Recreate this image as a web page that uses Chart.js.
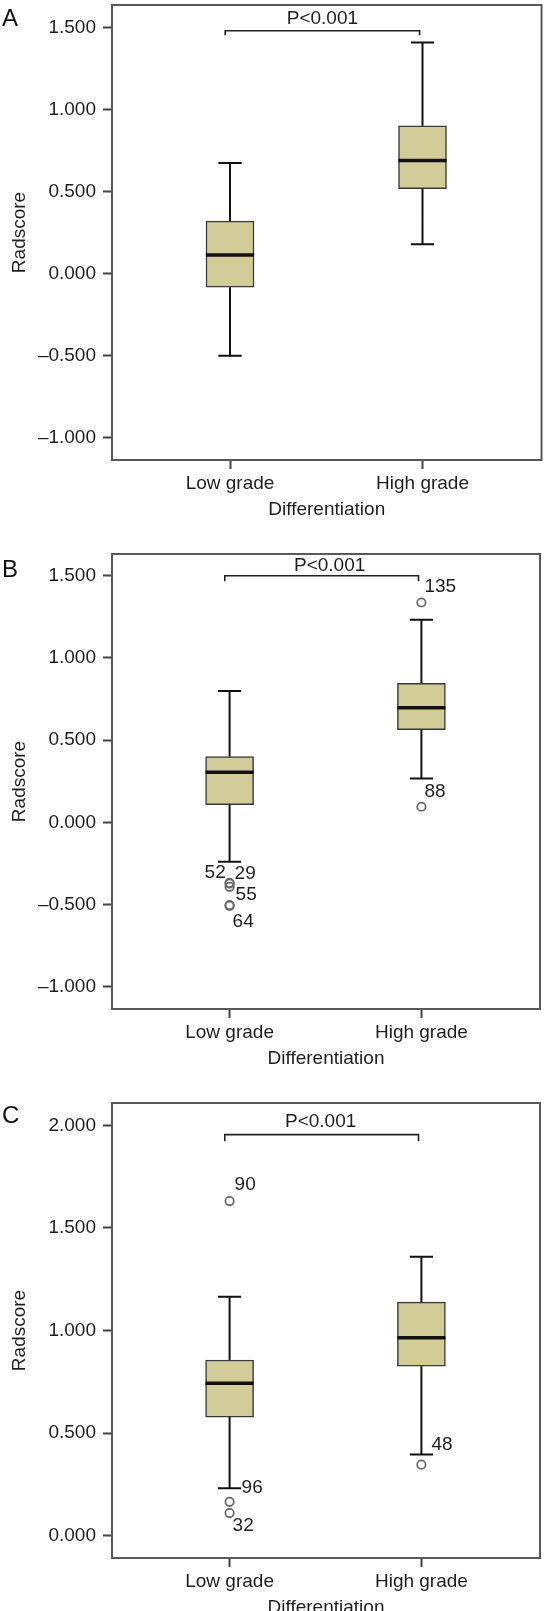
<!DOCTYPE html>
<html>
<head>
<meta charset="utf-8">
<script src="https://cdn.jsdelivr.net/npm/chart.js@4.4.1/dist/chart.umd.min.js"></script>
<style>
  html, body { margin: 0; padding: 0; background: #fff; width: 546px; height: 1611px; overflow: hidden; }
  .panel { position: absolute; left: 0; width: 546px; }
  .letter { position: absolute; font: 24px "Liberation Sans", Arial, sans-serif; line-height: 24px; color: #111; }
</style>
</head>
<body>
<div class="panel" style="top:0px"><canvas id="chartA" width="546" height="521"></canvas></div>
<div class="panel" style="top:540px"><canvas id="chartB" width="546" height="530"></canvas></div>
<div class="panel" style="top:1090px"><canvas id="chartC" width="546" height="529"></canvas></div>
<div class="letter" style="left:2px;top:6px">A</div>
<div class="letter" style="left:2px;top:557px">B</div>
<div class="letter" style="left:2px;top:1103px">C</div>

<script>
// shared labels
const CATEGORIES = ["Low grade", "High grade"];
const X_TITLE = "Differentiation";
const Y_TITLE = "Radscore";
const P_TEXT = "P<0.001";

// ---- Panel A ----
const A_RANGE = [-1.138, 1.64];
const A_TICKS = [-1, -0.5, 0, 0.5, 1, 1.5];
const A_MIN = [-0.502, 0.180];
const A_Q1  = [-0.083, 0.519];
const A_MED = [0.114, 0.691];
const A_Q3  = [0.320, 0.903];
const A_MAX = [0.676, 1.411];
const A_OUT_GROUP = [];
const A_OUT_VALUE = [];
const A_OUT_LABEL = [];
const A_BRACKET = [1.483, 1.456];   // bar level, end of legs

// ---- Panel B ----
const B_RANGE = [-1.135, 1.632];
const B_TICKS = [-1, -0.5, 0, 0.5, 1, 1.5];
const B_MIN = [-0.240, 0.266];
const B_Q1  = [0.108, 0.563];
const B_MED = [0.305, 0.697];
const B_Q3  = [0.400, 0.846];
const B_MAX = [0.799, 1.232];
const B_OUT_GROUP = [0, 0, 0, 0, 0, 1, 1];
const B_OUT_VALUE = [-0.368, -0.372, -0.392, -0.503, -0.508, 1.337, 0.095];
const B_OUT_LABEL = ["52", "29", "55", "64", "", "135", "88"];
const B_BRACKET = [1.500, 1.467];

// ---- Panel C ----
const C_RANGE = [-0.109, 2.109];
const C_TICKS = [0, 0.5, 1, 1.5, 2];
const C_MIN = [0.231, 0.396];
const C_Q1  = [0.578, 0.826];
const C_MED = [0.743, 0.965];
const C_Q3  = [0.856, 1.138];
const C_MAX = [1.165, 1.359];
const C_OUT_GROUP = [0, 0, 0, 1];
const C_OUT_VALUE = [1.631, 0.165, 0.110, 0.346];
const C_OUT_LABEL = ["90", "96", "32", "48"];
const C_BRACKET = [1.955, 1.922];

// look
const BOX_FILL = "#d1cc98";
const BOX_EDGE = "#3a3a3a";
const INK = "#111111";
const FRAME = "#585858";
const OUT_EDGE = "#6a6a6a";
const TEXT = "#1e1e1e";
const FONT_PX = 19;
const BOX_HALF = 0.1255;   // half box width, x units
const CAP_HALF = 0.0605;   // half whisker cap width
const X_LIMITS = [0.387, 2.6182];
const BRACKET_X = [0.975, 1.985];

// nudges for labels (px from the point: dx to text start, dy to text middle)
const A_NUDGE = [];
const B_NUDGE = [[-25, -10], [5, -10], [6, 8], [3, 16.5], [0, 0], [3, -16], [3, -15]];
const C_NUDGE = [[5, -16], [12, -14], [3, 12.5], [10, -20]];

Chart.defaults.font.family = '"Liberation Sans", Arial, Helvetica, sans-serif';
Chart.defaults.font.size = FONT_PX;
Chart.defaults.color = TEXT;

function fmtTick(v) {
  return (v < 0 ? "\u2013" : "") + Math.abs(v).toFixed(3);
}

function whiskerPoints(mins, q1s, q3s, maxs) {
  const pts = [];
  mins.forEach((lo, i) => {
    const c = i + 1;
    pts.push({ x: c, y: q3s[i] }, { x: c, y: maxs[i] }, { x: c, y: null });
    pts.push({ x: c - CAP_HALF, y: maxs[i] }, { x: c + CAP_HALF, y: maxs[i] }, { x: c, y: null });
    pts.push({ x: c, y: q1s[i] }, { x: c, y: lo }, { x: c, y: null });
    pts.push({ x: c - CAP_HALF, y: lo }, { x: c + CAP_HALF, y: lo }, { x: c, y: null });
  });
  return pts;
}

function medianPoints(meds) {
  const pts = [];
  meds.forEach((m, i) => {
    pts.push({ x: i + 1 - BOX_HALF, y: m }, { x: i + 1 + BOX_HALF, y: m }, { x: i + 1, y: null });
  });
  return pts;
}

const framePlugin = {
  id: "frame",
  afterDatasetsDraw(chart) {
    const { ctx, chartArea: a } = chart;
    ctx.save();
    ctx.strokeStyle = FRAME;
    ctx.lineWidth = 2;
    ctx.strokeRect(a.left, a.top, a.right - a.left, a.bottom - a.top);
    ctx.restore();
  }
};

function makePanel(id, p) {
  const notes = {
    id: "notes",
    afterDatasetsDraw(chart) {
      const { ctx, scales: { x, y } } = chart;
      ctx.save();
      ctx.fillStyle = TEXT;
      ctx.font = FONT_PX + 'px "Liberation Sans", Arial, sans-serif';
      ctx.textBaseline = "middle";
      // P value over the bracket
      ctx.textAlign = "center";
      const mid = (BRACKET_X[0] + BRACKET_X[1]) / 2;
      ctx.fillText(P_TEXT, x.getPixelForValue(mid) + p.pNudge[0], y.getPixelForValue(p.bracket[0]) + p.pNudge[1]);
      // case numbers beside outliers
      ctx.textAlign = "left";
      p.outLabel.forEach((t, i) => {
        if (!t) return;
        const px = x.getPixelForValue(p.outGroup[i] + 1) + p.nudge[i][0];
        const py = y.getPixelForValue(p.outValue[i]) + p.nudge[i][1];
        ctx.fillText(t, px, py);
      });
      ctx.restore();
    }
  };

  return new Chart(document.getElementById(id), {
    type: "scatter",
    data: {
      datasets: [
        {
          type: "line",
          data: medianPoints(p.med),
          borderColor: INK,
          borderWidth: 3.5,
          borderCapStyle: "butt",
          pointRadius: 0,
          spanGaps: false,
          order: 0
        },
        {
          type: "scatter",
          data: p.outValue.map((v, i) => ({ x: p.outGroup[i] + 1, y: v })),
          pointRadius: 4.2,
          pointBorderWidth: 1.8,
          borderColor: OUT_EDGE,
          backgroundColor: "rgba(255,255,255,0)",
          order: 1
        },
        {
          type: "line",
          data: whiskerPoints(p.min, p.q1, p.q3, p.max),
          borderColor: INK,
          borderWidth: 2,
          borderCapStyle: "butt",
          pointRadius: 0,
          spanGaps: false,
          order: 2
        },
        {
          type: "line",
          data: [
            { x: BRACKET_X[0], y: p.bracket[1] }, { x: BRACKET_X[0], y: p.bracket[0] },
            { x: BRACKET_X[1], y: p.bracket[0] }, { x: BRACKET_X[1], y: p.bracket[1] }
          ],
          borderColor: "#222",
          borderWidth: 1.6,
          pointRadius: 0,
          order: 3
        },
        {
          type: "bar",
          data: p.q1.map((q, i) => ({ x: i + 1, y: [q, p.q3[i]] })),
          backgroundColor: BOX_FILL,
          borderColor: BOX_EDGE,
          borderWidth: 1.5,
          borderSkipped: false,
          barThickness: 48,
          order: 4
        }
      ]
    },
    options: {
      responsive: false,
      animation: false,
      events: [],
      devicePixelRatio: 1,
      layout: { padding: { top: p.padTop, right: 4.5, bottom: 0, left: 0 } },
      plugins: { legend: { display: false }, tooltip: { enabled: false } },
      scales: {
        x: {
          type: "linear",
          bounds: "data",
          offset: false,
          min: X_LIMITS[0],
          max: X_LIMITS[1],
          afterBuildTicks: (s) => { s.ticks = CATEGORIES.map((_, i) => ({ value: i + 1 })); },
          afterFit: (s) => { s.height = 61; s.paddingLeft = 0; s.paddingRight = 0; },
          ticks: {
            callback: (v) => CATEGORIES[v - 1] || "",
            autoSkip: false, maxRotation: 0, minRotation: 0, padding: 3, color: TEXT
          },
          grid: { offset: false, drawOnChartArea: false, drawTicks: true, tickLength: 9, tickColor: "#444", tickWidth: 2 },
          border: { display: false },
          title: { display: true, text: X_TITLE, color: TEXT, padding: { top: 0, bottom: 0 } }
        },
        y: {
          type: "linear",
          bounds: "data",
          min: p.range[0],
          max: p.range[1],
          afterBuildTicks: (s) => { s.ticks = p.ticks.map((v) => ({ value: v })); },
          afterFit: (s) => { s.width = 112; s.paddingTop = 0; s.paddingBottom = 0; },
          ticks: { callback: (v) => fmtTick(v), autoSkip: false, padding: 7, color: TEXT },
          grid: { drawOnChartArea: false, drawTicks: true, tickLength: 9, tickColor: "#444", tickWidth: 2 },
          border: { display: false },
          title: { display: true, text: Y_TITLE, color: TEXT, padding: { top: 8, bottom: 0 } }
        }
      }
    },
    plugins: [framePlugin, notes]
  });
}

makePanel("chartA", {
  padTop: 5, range: A_RANGE, ticks: A_TICKS,
  min: A_MIN, q1: A_Q1, med: A_MED, q3: A_Q3, max: A_MAX,
  outGroup: A_OUT_GROUP, outValue: A_OUT_VALUE, outLabel: A_OUT_LABEL, nudge: A_NUDGE,
  bracket: A_BRACKET, pNudge: [0, -11.5]
});
makePanel("chartB", {
  padTop: 14, range: B_RANGE, ticks: B_TICKS,
  min: B_MIN, q1: B_Q1, med: B_MED, q3: B_Q3, max: B_MAX,
  outGroup: B_OUT_GROUP, outValue: B_OUT_VALUE, outLabel: B_OUT_LABEL, nudge: B_NUDGE,
  bracket: B_BRACKET, pNudge: [8, -10]
});
makePanel("chartC", {
  padTop: 13, range: C_RANGE, ticks: C_TICKS,
  min: C_MIN, q1: C_Q1, med: C_MED, q3: C_Q3, max: C_MAX,
  outGroup: C_OUT_GROUP, outValue: C_OUT_VALUE, outLabel: C_OUT_LABEL, nudge: C_NUDGE,
  bracket: C_BRACKET, pNudge: [-1, -13]
});
</script>
</body>
</html>
